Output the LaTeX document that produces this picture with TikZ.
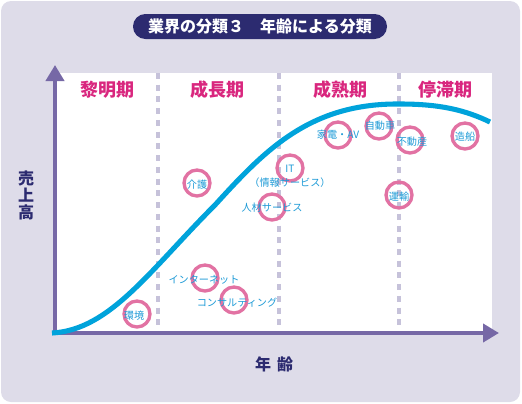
\documentclass[tikz,border=0pt]{standalone}
\usepackage{fontspec}
\setmainfont{Noto Sans CJK JP}
\usetikzlibrary{arrows.meta}
\definecolor{bgc}{HTML}{DEDCE9}
\definecolor{navyc}{HTML}{2C2B70}
\definecolor{axisc}{HTML}{7668A6}
\definecolor{dashc}{HTML}{C6C2DA}
\definecolor{phasec}{HTML}{D9267E}
\definecolor{ringc}{HTML}{E272A3}
\definecolor{curvec}{HTML}{00A3DB}
\definecolor{lblc}{HTML}{1E9BD7}
\begin{document}
\begin{tikzpicture}[x=0.75pt,y=-0.75pt,
  phase/.style={font=\fontsize{13.5}{16}\selectfont\bfseries, text=phasec, inner sep=0pt},
  ring/.style={draw=ringc, line width=2.5pt, circle, minimum size=19.5pt, inner sep=0pt},
  lbl/.style={font=\fontsize{7.6}{9}\selectfont, text=lblc, inner sep=0pt},
  dashv/.style={draw=dashc, line width=2.4pt, dash pattern=on 4.5pt off 4.3pt},
  axisln/.style={draw=axisc, line width=3.3pt, -{Triangle[length=12pt,width=13.5pt]}},
  axlbl/.style={font=\fontsize{12}{12.75}\selectfont\bfseries, text=navyc, inner sep=0pt, align=center}]
\useasboundingbox (0,0) rectangle (522,404);
\fill[bgc, rounded corners=7.5pt] (1,1) rectangle (520,402);
\fill[white] (55,73) rectangle (492,332);
% title
\node[fill=navyc, rounded corners=9.3pt, minimum width=190.5pt, minimum height=18.75pt, inner sep=0pt,
  text=white, font=\fontsize{12}{14}\selectfont\bfseries] (title) at (260,26.5) {業界の分類３　年齢による分類};
% phase dividers
\coordinate (d1t) at (158,73); \coordinate (d1b) at (158,331);
\coordinate (d2t) at (279,73); \coordinate (d2b) at (279,331);
\coordinate (d3t) at (399,73); \coordinate (d3b) at (399,331);
\draw[dashv] (d1t) -- (d1b);
\draw[dashv] (d2t) -- (d2b);
\draw[dashv] (d3t) -- (d3b);
% phase labels
\node[phase] (p1) at (107,89.5) {黎明期};
\node[phase] (p2) at (217,89.5) {成長期};
\node[phase] (p3) at (340,89.5) {成熟期};
\node[phase] (p4) at (445,89.5) {停滞期};
% axes
\coordinate (xs) at (52,333); \coordinate (xe) at (499,333);
\coordinate (ys) at (55,335); \coordinate (ye) at (55,65);
\draw[axisln] (xs) -- (xe);
\draw[axisln] (ys) -- (ye);
% curve
\draw[curvec, line width=3.8pt] (52,333) .. controls (110,330) and (150,270) .. (215,205)
  .. controls (265,150) and (310,103) .. (400,104)
  .. controls (440,104) and (465,110) .. (490,122);
% rings
\node[ring] (r1) at (137,314) {};
\node[ring] (r2) at (205,278) {};
\node[ring] (r3) at (234,300) {};
\node[ring] (r4) at (197,183) {};
\node[ring] (r5) at (290,168) {};
\node[ring] (r6) at (272,207) {};
\node[ring] (r7) at (338,135) {};
\node[ring] (r8) at (379,126) {};
\node[ring] (r9) at (410,140) {};
\node[ring] (r10) at (465,136) {};
\node[ring] (r11) at (399,195) {};
% labels
\node[lbl] (t1) at (134,316) {環境};
\node[lbl] (t2) at (204,280) {インターネット};
\node[lbl] (t3) at (237,303) {コンサルティング};
\node[lbl] (t4) at (197,185) {介護};
\node[lbl] (t5) at (290,169) {IT};
\node[lbl] (t5b) at (290,183) {（情報サービス）};
\node[lbl] (t6) at (272,208) {人材サービス};
\node[lbl] (t7) at (338,135) {家電・AV};
\node[lbl] (t8) at (380,126) {自動車};
\node[lbl] (t9) at (412,142) {不動産};
\node[lbl] (t10) at (465,137) {造船};
\node[lbl] (t11) at (399,197) {運輸};
% axis labels
\node[axlbl] (ylab) at (26,195) {売\\上\\高};
\node[axlbl] (xlab) at (274,364) {年\hspace{4.5pt}齢};
\end{tikzpicture}
\end{document}
